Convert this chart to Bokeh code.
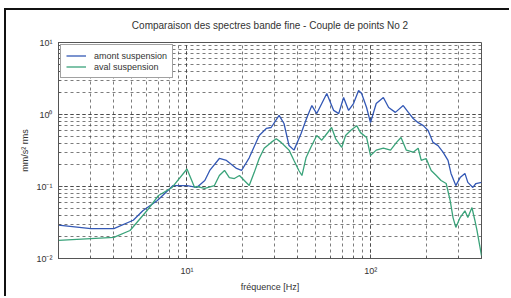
from bokeh.plotting import figure
from bokeh.models import CustomJSTickFormatter, Legend, LegendItem, Title
from bokeh.embed import file_html
from bokeh.resources import INLINE

title = "Comparaison des spectres bande fine - Couple de points No 2"
x_label = "fréquence [Hz]"
y_label = "mm/s² rms"
names = ["amont suspension", "aval suspension"]

f_amont = [2.0, 3.0, 4.0, 5.1, 5.75, 6.9, 8.4, 10.0, 11.3, 12.5, 13.3, 15.0, 16.4, 18.6, 19.8,
           21.8, 24.7, 27.0, 28.7, 31.7, 33.7, 35.9, 38.2, 41.7, 44.9, 47.8, 50.8, 54.1, 57.6,
           62.8, 66.9, 71.1, 75.7, 80.5, 85.8, 89.1, 94.8, 99.6, 107, 117, 125, 136, 150, 160,
           170, 181, 193, 205, 218, 232, 247, 263, 273, 290, 306, 325, 337, 359, 373, 400]
v_amont = [0.029, 0.026, 0.026, 0.034, 0.046, 0.064, 0.103, 0.103, 0.097, 0.121, 0.167, 0.245,
           0.23, 0.178, 0.167, 0.25, 0.51, 0.64, 0.66, 0.97, 0.75, 0.37, 0.32, 0.54, 0.91, 1.33,
           1.03, 1.42, 1.96, 1.14, 1.03, 1.72, 1.14, 1.42, 2.15, 1.96, 1.25, 0.77, 1.42, 1.72,
           1.25, 1.07, 1.33, 1.07, 0.88, 0.77, 0.70, 0.60, 0.41, 0.37, 0.30, 0.23, 0.152, 0.103,
           0.133, 0.152, 0.114, 0.097, 0.110, 0.114]

f_aval = [2.0, 4.0, 4.9, 6.05, 7.0, 8.3, 10.0, 11.0, 11.3, 12.5, 14.1, 15.0, 16.0, 17.0, 18.1,
          19.3, 20.5, 21.8, 23.2, 24.7, 26.3, 28.7, 30.6, 32.5, 34.6, 35.9, 38.2, 40.6, 42.2,
          44.4, 47.2, 50.8, 54.1, 57.6, 61.2, 64.4, 69.5, 72.9, 77.6, 83.8, 87.9, 94.8, 99.6,
          107, 117, 128, 138, 146, 156, 170, 181, 188, 200, 213, 227, 241, 257, 270, 280, 290,
          306, 325, 337, 355, 368, 378, 400]
v_aval = [0.0178, 0.0196, 0.0245, 0.046, 0.075, 0.097, 0.175, 0.097, 0.10, 0.094, 0.103, 0.142,
          0.167, 0.133, 0.129, 0.142, 0.121, 0.103, 0.156, 0.245, 0.34, 0.41, 0.46, 0.41, 0.35,
          0.32, 0.23, 0.167, 0.142, 0.25, 0.35, 0.51, 0.44, 0.54, 0.66, 0.46, 0.35, 0.51, 0.60,
          0.70, 0.56, 0.48, 0.27, 0.32, 0.34, 0.32, 0.41, 0.48, 0.32, 0.30, 0.34, 0.23, 0.245,
          0.167, 0.142, 0.121, 0.110, 0.064, 0.037, 0.027, 0.037, 0.046, 0.037, 0.051, 0.034,
          0.0245, 0.0110]

blue = "#3358b5"
green = "#3aa37a"
txt = "#333333"
font = "Liberation Sans"

p = figure(width=505, height=288, x_axis_type="log", y_axis_type="log",
           x_range=(2, 400), y_range=(0.01, 10), title=None,
           output_backend="svg", toolbar_location=None,
           min_border_left=52, min_border_right=30, min_border_top=32, min_border_bottom=40)
p.styles = {"border-top": "2px solid #111111", "border-left": "2px solid #111111",
            "margin-top": "8px", "margin-left": "4px"}

spacer = Title(text=" ", text_font=font, text_font_size="4px", standoff=0, offset=0)
main_title = Title(text=title, align="center", text_font=font, text_font_size="10px",
                   text_font_style="normal", text_color=txt, offset=0)
p.add_layout(spacer, "above")
p.add_layout(main_title, "above")

p.outline_line_color = "#555555"
p.background_fill_color = "white"
p.border_fill_color = "white"

fmt = CustomJSTickFormatter(code="""
const e = Math.round(Math.log10(tick));
const sup = {"-":"\u207b","0":"\u2070","1":"\u00b9","2":"\u00b2","3":"\u00b3"};
return "10" + String(e).split("").map(c => sup[c]).join("");
""")

for ax in (p.xaxis[0], p.yaxis[0]):
    ax.formatter = fmt
    ax.major_label_text_font = font
    ax.major_label_text_font_size = "9px"
    ax.major_label_text_color = txt
    ax.axis_label_text_font = font
    ax.axis_label_text_font_size = "9px"
    ax.axis_label_text_font_style = "normal"
    ax.axis_label_text_color = txt
    ax.axis_line_color = "#555555"
    ax.major_tick_in = 4
    ax.major_tick_out = 0
    ax.minor_tick_in = 2
    ax.minor_tick_out = 0
    ax.major_tick_line_color = "#555555"
    ax.minor_tick_line_color = "#555555"

p.xaxis.axis_label = x_label
p.yaxis.axis_label = y_label
p.xaxis.major_label_standoff = 7
p.xaxis.axis_label_standoff = 3
p.yaxis.major_label_standoff = 6
p.yaxis.axis_label_standoff = 3

for g in (p.xgrid[0], p.ygrid[0]):
    g.grid_line_color = "#444444"
    g.grid_line_alpha = 0.7
    g.grid_line_dash = "3 3"
    g.minor_grid_line_color = "#444444"
    g.minor_grid_line_alpha = 0.7
    g.minor_grid_line_dash = "3 3"

r1 = p.line(f_amont, v_amont, line_color=blue, line_width=1.3)
r2 = p.line(f_aval, v_aval, line_color=green, line_width=1.3)

legend = Legend(items=[LegendItem(label=names[0], renderers=[r1]),
                       LegendItem(label=names[1], renderers=[r2])],
                location="top_left")
legend.margin = 2
legend.padding = 5
legend.spacing = 0
legend.label_height = 11
legend.glyph_height = 11
legend.glyph_width = 20
legend.label_standoff = 8
legend.label_text_font = font
legend.label_text_font_size = "9px"
legend.label_text_color = txt
legend.border_line_color = "#444444"
legend.background_fill_alpha = 1.0
p.add_layout(legend)

open("out.html", "w").write(file_html(p, INLINE))
